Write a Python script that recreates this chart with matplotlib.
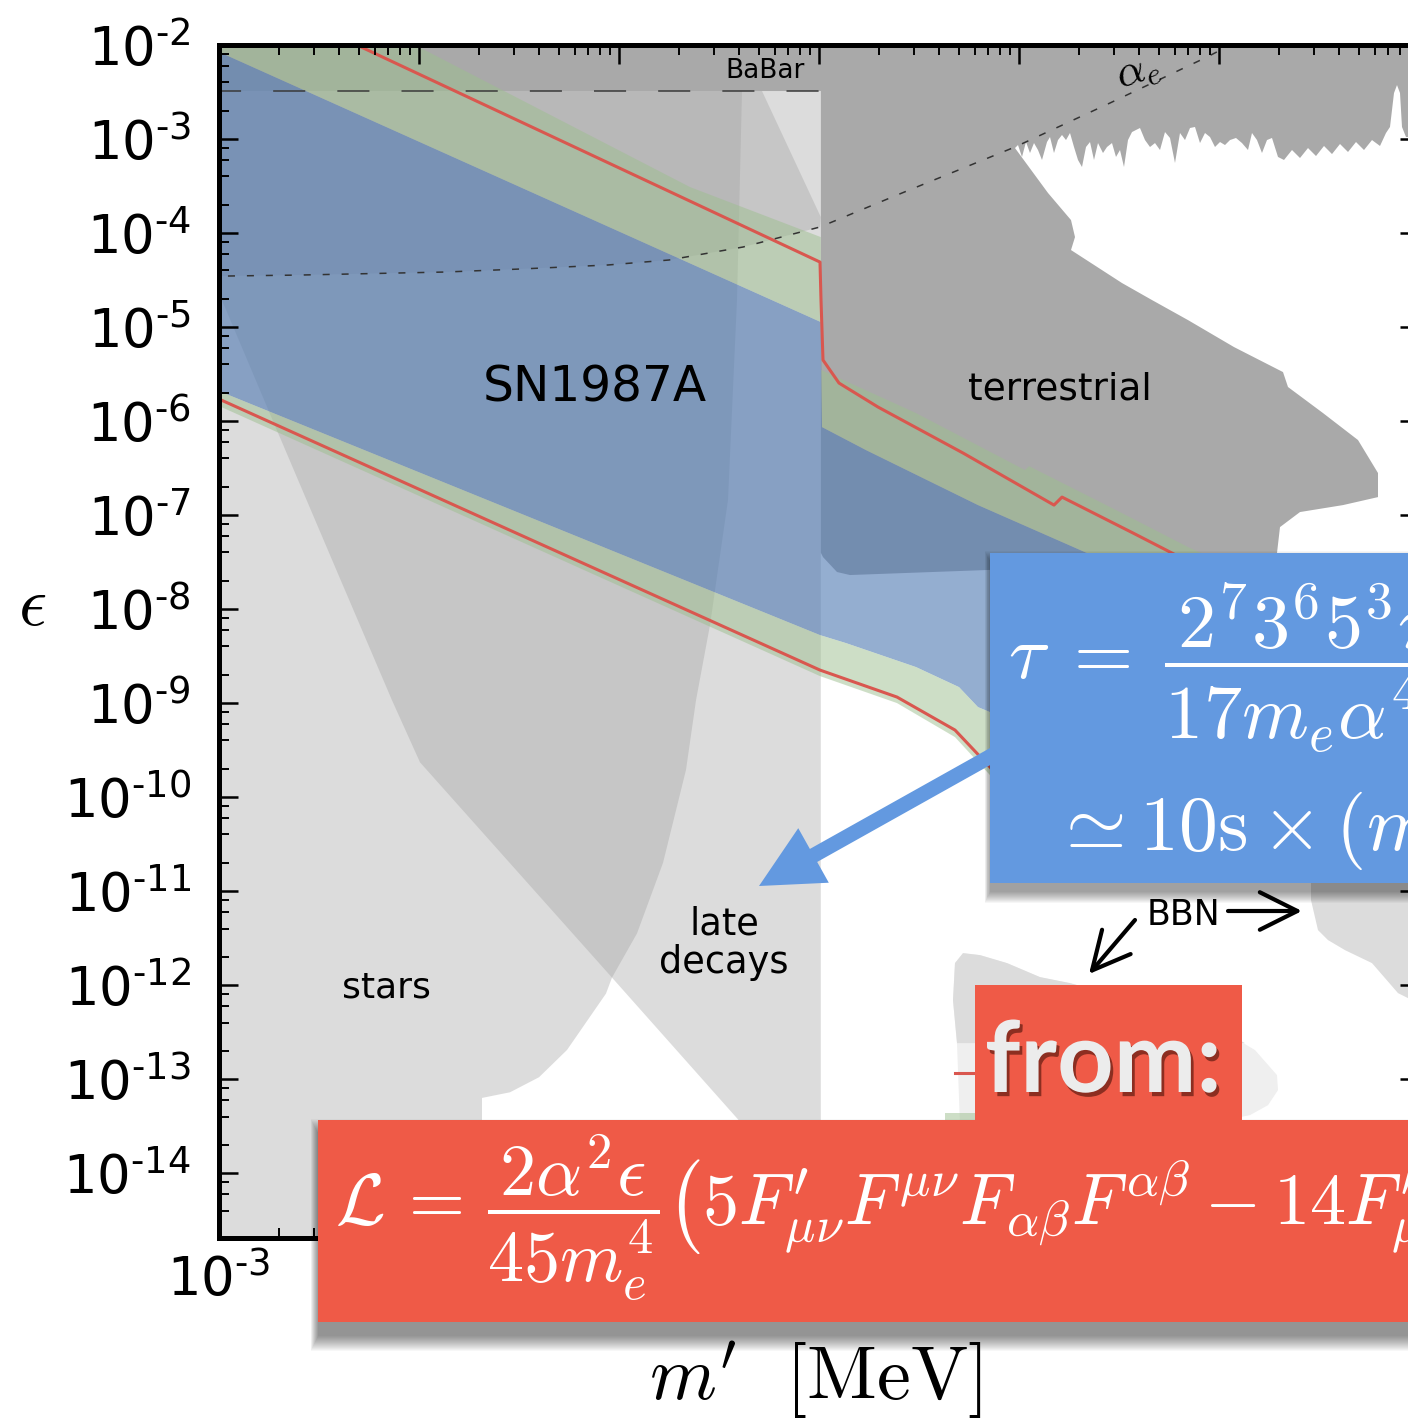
import numpy as np
import matplotlib
matplotlib.use("Agg")
import matplotlib.pyplot as plt
import matplotlib.ticker as ticker
import matplotlib.patheffects as pe
from matplotlib.patches import Rectangle, FancyArrowPatch, ArrowStyle

plt.rcParams["mathtext.fontset"] = "cm"

# outlines are given as log10(m'/MeV) and log10(epsilon)
log_2me = 0.009
babar_logeps = -2.49

x_decades = [-3, -2, -1, 0, 1, 2, 3]
y_decades = [-14, -13, -12, -11, -10, -9, -8, -7, -6, -5, -4, -3, -2]

stars_logm = [-3.05, -0.385, -0.41, -0.455, -0.545, -0.615, -0.665, -0.78, -0.91,
              -1.035, -1.065, -1.26, -1.40, -1.545, -1.685, -1.685, -3.05]
stars_logeps = [-2.49, -2.49, -4.71, -6.84, -8.17, -8.97, -9.71, -10.70, -11.45,
                -11.92, -12.09, -12.69, -12.98, -13.14, -13.20, -15.0, -15.0]

late_logm = [-3.05, 0.009, 0.009, -0.40, -1.035, -1.995, -2.135, -2.42, -2.71, -3.0, -3.05]
late_logeps = [-2.49, -2.49, -14.42, -13.44, -11.92, -9.63, -8.97, -7.55, -6.10, -4.64, -4.39]

alpha_e_logm = [-3.05, -2.595, -1.87, -1.495, -1.055, -0.75, -0.38, 0.005, 0.39, 0.98, 1.455, 1.94, 2.105]
alpha_e_logeps = [-4.46, -4.447, -4.415, -4.383, -4.340, -4.287, -4.149, -3.936, -3.596, -3.085, -2.617, -2.128, -1.947]

terr_lower_logm = [0.009, 0.02, 0.09, 0.155, 0.835, 1.655, 2.29]
terr_lower_logeps = [-7.40, -7.447, -7.606, -7.638, -7.585, -7.532, -7.404]
terr_right_logm = [2.305, 2.405, 2.62, 2.795, 2.795, 2.695, 2.52, 2.345, 2.32, 2.075,
                   1.845, 1.665, 1.515, 1.26, 1.28, 1.26, 1.145]
terr_right_logeps = [-7.128, -6.968, -6.894, -6.809, -6.553, -6.202, -5.915, -5.638, -5.479, -5.213,
                     -4.926, -4.713, -4.532, -4.181, -4.043, -3.862, -3.574]
spike_logm = [0.98, 0.995, 1.015, 1.035, 1.055, 1.075, 1.095, 1.115, 1.14, 1.155, 1.175, 1.195, 1.215,
              1.235, 1.255, 1.275, 1.295, 1.315, 1.335, 1.355, 1.375, 1.395, 1.42, 1.44, 1.465, 1.485,
              1.505, 1.525, 1.545, 1.565, 1.585, 1.605, 1.63, 1.655, 1.68, 1.705, 1.73, 1.755, 1.78,
              1.805, 1.83, 1.855, 1.88, 1.905, 1.93, 1.955, 1.98, 2.005, 2.03, 2.055, 2.085, 2.115,
              2.145, 2.165, 2.19, 2.215, 2.24, 2.265, 2.295, 2.325, 2.365, 2.405, 2.445, 2.485, 2.525,
              2.565, 2.605, 2.645, 2.685, 2.725, 2.765, 2.805, 2.835, 2.855, 2.875, 2.89, 2.905, 2.915,
              2.935, 3.05]
spike_logeps = [-3.096, -3.064, -3.191, -3.032, -3.149, -3.043, -3.117, -3.223, -3.032, -2.979, -3.149,
                -3.011, -2.957, -3.011, -2.936, -3.085, -3.223, -3.298, -3.085, -3.032, -3.223, -3.043,
                -3.149, -3.085, -3.043, -3.191, -3.117, -3.298, -3.011, -2.926, -2.904, -2.883, -3.011,
                -3.085, -3.043, -3.117, -2.926, -2.989, -3.255, -2.936, -3.011, -2.883, -2.872, -3.043,
                -2.936, -2.979, -3.085, -3.032, -3.064, -3.011, -2.989, -3.043, -3.117, -2.936, -3.011,
                -3.149, -3.011, -2.989, -3.191, -3.223, -3.117, -3.202, -3.096, -3.181, -3.074, -3.160,
                -3.053, -3.138, -3.032, -3.117, -3.011, -3.074, -2.936, -2.872, -2.511, -2.426, -2.511,
                -2.872, -2.979, -2.979]

sn_logm = [-3.05, 0.009, 0.015, 0.235, 0.795, 1.34, 1.405, 1.5, 0.905, 0.855, 0.795, 0.70, 0.485,
           0.135, 0.005, -3.05]
sn_logeps = [-2.026, -4.947, -6.064, -6.309, -6.894, -7.404, -7.5, -8.2, -9.138, -9.096, -9.043,
             -8.83, -8.617, -8.362, -8.277, -5.638]

green_up_logm = [-3.05, -2.02, -0.645, 0.009, 0.012, 0.485, 1.03, 1.05, 1.515, 1.845, 2.155, 1.655,
                 1.34, 0.795, 0.235, 0.015, 0.009, -3.05]
green_up_logeps = [-0.87, -2.0, -3.511, -4.043, -5.457, -5.915, -6.521, -6.479, -6.979, -7.34, -7.638,
                   -7.745, -7.404, -6.894, -6.309, -6.064, -4.947, -2.026]

green_lo_logm = [-3.05, 0.005, 0.135, 0.485, 0.70, 0.795, 0.855, 0.905, 0.905, 0.855, 0.68, 0.39, 0.005, -3.05]
green_lo_logeps = [-5.638, -8.277, -8.362, -8.617, -8.83, -9.043, -9.096, -9.138, -10.032, -9.766,
                   -9.362, -9.0, -8.713, -5.792]

red_up_logm = [-3.05, 0.005, 0.01, 0.02, 0.10, 0.295, 0.72, 1.175, 1.215, 1.57, 1.765, 2.155]
red_up_logeps = [-1.263, -4.309, -4.713, -5.351, -5.596, -5.851, -6.340, -6.894, -6.809, -7.191, -7.404, -7.851]

red_lo_logm = [-3.05, 0.005, 0.39, 0.68, 0.855, 0.955]
red_lo_logeps = [-5.718, -8.649, -8.936, -9.287, -9.681, -9.926]

bbn_logm = [0.69, 0.67, 0.68, 0.72, 0.805, 0.94, 1.105, 1.255, 1.655, 2.055, 2.18, 2.29, 2.295,
            2.245, 2.155, 1.905, 0.705]
bbn_logeps = [-12.617, -12.16, -11.766, -11.66, -11.681, -11.766, -11.915, -11.979, -12.213, -12.532,
              -12.691, -12.957, -13.117, -13.277, -13.383, -13.489, -13.489]
bbn_core_logm = [0.69, 0.67, 0.68, 0.72, 0.805, 0.94, 1.105, 1.255, 1.655, 2.055, 2.13]
bbn_core_logeps = [-12.617, -12.16, -11.766, -11.66, -11.681, -11.766, -11.915, -11.979, -12.213,
                   -12.532, -12.617]
bbn2_logm = [2.46, 2.46, 2.495, 2.545, 2.63, 2.765, 2.895, 3.05, 3.05]
bbn2_logeps = [-10.777, -11.096, -11.415, -11.521, -11.628, -11.766, -12.085, -12.25, -10.777]
bbn_red_logm = [0.68, 1.405]
bbn_red_logeps = [-12.936, -12.936]
bbn_green_logm = [0.63, 1.40, 1.40, 0.63]
bbn_green_logeps = [-13.36, -13.36, -13.50, -13.50]

W, H = 1408, 1420
LIGHT = "#a1a1a1"
DARK = "#a9a9a9"
BLUE = "#537cb4"
GREEN = "#9dbf8f"
RED = "#d9574f"


def pts(logm, logeps):
    return 10 ** np.asarray(logm), 10 ** np.asarray(logeps)


def fxy(px, py):
    return px / W, 1 - py / H


def frect(x0, y0, x1, y1, **kw):
    return Rectangle((x0 / W, 1 - y1 / H), (x1 - x0) / W, (y1 - y0) / H,
                     transform=fig.transFigure, **kw)


fig = plt.figure(figsize=(W / 100, H / 100), dpi=100)
ax = fig.add_axes([219 / W, (H - 1238) / H, 1200 / W, 1193 / H])
ax.set_xscale("log")
ax.set_yscale("log")

# light constraint regions
ax.fill(*pts(stars_logm, stars_logeps), color=LIGHT, alpha=0.37, lw=0, zorder=1)
ax.fill(*pts(late_logm, late_logeps), color=LIGHT, alpha=0.37, lw=0, zorder=1)
ae_m = [-3.05, -0.285, log_2me] + alpha_e_logm[7::-1]
ae_e = [babar_logeps, babar_logeps, -3.83] + alpha_e_logeps[7::-1]
ax.fill(*pts(ae_m, ae_e), color=LIGHT, alpha=0.37, lw=0, zorder=1)
ax.fill(*pts(bbn_logm, bbn_logeps), color="#efefef", lw=0, zorder=1)
ax.fill(*pts(bbn_core_logm, bbn_core_logeps), color="#dcdcdc", lw=0, zorder=1)
ax.fill(*pts(bbn2_logm, bbn2_logeps), color="#dcdcdc", lw=0, zorder=1)

# BaBar + terrestrial
terr_m = [-3.05, -3.05, log_2me] + terr_lower_logm + terr_right_logm + spike_logm + [3.05]
terr_e = [-1.9, babar_logeps, babar_logeps] + terr_lower_logeps + terr_right_logeps + spike_logeps + [-1.9]
ax.fill(*pts(terr_m, terr_e), color=DARK, lw=0, zorder=1.2)

# SN1987A
ax.fill(*pts(sn_logm, sn_logeps), color=BLUE, alpha=0.62, lw=0, zorder=1.5)
ax.fill(*pts(green_up_logm, green_up_logeps), color=GREEN, alpha=0.5, lw=0, zorder=1.5)
ax.fill(*pts(green_lo_logm, green_lo_logeps), color=GREEN, alpha=0.5, lw=0, zorder=1.5)
ax.fill(*pts(bbn_green_logm, bbn_green_logeps), color=GREEN, alpha=0.5, lw=0, zorder=1.5)
ax.plot(*pts(red_up_logm, red_up_logeps), color=RED, lw=2.2, zorder=2)
ax.plot(*pts(red_lo_logm, red_lo_logeps), color=RED, lw=2.2, zorder=2)
ax.plot(*pts(bbn_red_logm, bbn_red_logeps), color=RED, lw=2.2, zorder=2)

ax.plot(*pts([-3.05, log_2me], [babar_logeps, babar_logeps]), color="#3a3a3a", lw=1.1,
        ls=(0, (21, 21)), zorder=2.1)
ax.plot(*pts(alpha_e_logm, alpha_e_logeps), color="#333333", lw=1.1, ls=(0, (4.6, 7.8)), zorder=2.1)

ax.set_xlim(1e-3, 1e3)
ax.set_ylim(10 ** -14.69, 1e-2)


def sci_label(v, pos):
    n = int(round(np.log10(v)))
    exp = ("\u2010" + str(-n)) if n < 0 else str(n)
    return r"$\mathregular{10^{%s}}$" % exp


def x_label(v, pos):
    # only the first decade label shows; the rest sit under the Lagrangian box
    return sci_label(v, pos) if v < 2e-3 else ""


ax.xaxis.set_major_locator(ticker.FixedLocator(10.0 ** np.array(x_decades)))
ax.xaxis.set_minor_locator(ticker.LogLocator(base=10, subs=np.arange(2, 10), numticks=100))
ax.yaxis.set_major_locator(ticker.FixedLocator(10.0 ** np.array(y_decades)))
ax.yaxis.set_minor_locator(ticker.LogLocator(base=10, subs=(2, 4, 6, 8), numticks=100))
ax.xaxis.set_major_formatter(ticker.FuncFormatter(x_label))
ax.yaxis.set_major_formatter(ticker.FuncFormatter(sci_label))
ax.xaxis.set_minor_formatter(ticker.NullFormatter())
ax.yaxis.set_minor_formatter(ticker.NullFormatter())
ax.tick_params(which="both", direction="in", top=True, right=True)
ax.tick_params(which="major", length=14, width=1.8, labelsize=38)
ax.tick_params(which="minor", length=7, width=1.4)
ax.tick_params(axis="y", which="major", pad=20)
ax.tick_params(axis="x", which="major", pad=11)
ax.set_axisbelow(False)
for s in ax.spines.values():
    s.set_linewidth(3.6)

ax.set_xlabel(r"$m^{\prime}\ \ [\mathrm{MeV}]$", fontsize=55)
ax.xaxis.set_label_coords(0.497, (1238 - 1380) / 1193)
ax.xaxis.label.set_va("center")
ax.set_ylabel(r"$\epsilon$", fontsize=50, rotation=0)
ax.yaxis.set_label_coords((32 - 219) / 1200, (1238 - 605) / 1193)
ax.yaxis.label.set_va("center")
ax.yaxis.label.set_ha("center")

# region labels
fig.text(*fxy(595, 387), "SN1987A", fontsize=35, ha="center", va="center")
fig.text(*fxy(1060, 390), "terrestrial", fontsize=27, ha="center", va="center")
fig.text(*fxy(386, 988), "stars", fontsize=26, ha="center", va="center")
fig.text(*fxy(724, 943), "late\ndecays", fontsize=26.5, ha="center", va="center", linespacing=1.05)
fig.text(*fxy(765, 71), "BaBar", fontsize=19, ha="center", va="center")
fig.text(*fxy(1137, 70), r"$\alpha_e$", fontsize=32, ha="center", va="center", rotation=18)
fig.text(*fxy(1184, 915), "BBN", fontsize=25, ha="center", va="center")

bbn_arrow = ArrowStyle("->", head_length=0.9, head_width=0.45)
fig.add_artist(FancyArrowPatch(fxy(1228, 911), fxy(1302, 911), transform=fig.transFigure,
                               arrowstyle=bbn_arrow, mutation_scale=30, lw=3.0, color="k",
                               shrinkA=0, shrinkB=0, zorder=3))
fig.add_artist(FancyArrowPatch(fxy(1135, 920), fxy(1089, 974), transform=fig.transFigure,
                               arrowstyle=bbn_arrow, mutation_scale=30, lw=3.0, color="k",
                               shrinkA=0, shrinkB=0, zorder=3))


def shadow(x0, y0, x1, y1, dy, blur, alpha, z):
    for e in range(blur):
        fig.add_artist(frect(x0 - 0.5 * e, y0 + dy - e, x1 + e, y1 + dy + e,
                             fc="k", ec="none", alpha=alpha, zorder=z))


# blue lifetime box
BOX_BLUE = "#6399e0"
fig.add_artist(FancyArrowPatch(fxy(1000, 751), fxy(759, 886), transform=fig.transFigure,
                               arrowstyle=ArrowStyle("simple", head_length=1.8, head_width=1.8,
                                                     tail_width=0.43),
                               mutation_scale=25, fc=BOX_BLUE, ec="none", shrinkA=0, shrinkB=0,
                               zorder=4.5))
shadow(990, 553, 1440, 883, 9, 12, 0.035, 4)
fig.add_artist(frect(990, 553, 1440, 883, fc=BOX_BLUE, ec="none", zorder=5))
fig.text(*fxy(1008, 668),
         r"$\tau\;=\;\dfrac{2^7 3^6 5^3 \pi^3}{17 m_e \alpha^4 \epsilon^2}\left(\dfrac{m_e}{m^{\prime}}\right)^9$",
         fontsize=55, color="white", ha="left", va="center", zorder=6)
fig.text(*fxy(1052, 828), r"$\simeq 10\mathrm{s}\times(m^{\prime}/\mathrm{MeV})^{-9}\,\epsilon^{-2}$",
         fontsize=56, color="white", ha="left", va="center", zorder=6)

# red Lagrangian box
BOX_RED = "#ef5a47"
shadow(318, 1120, 1440, 1322, 14, 16, 0.03, 4)
fig.add_artist(frect(318, 1120, 1440, 1322, fc=BOX_RED, ec="none", zorder=5))
fig.add_artist(frect(975, 985, 1242, 1121, fc=BOX_RED, ec="none", zorder=5))
fig.text(*fxy(985, 1092), "from:", fontsize=71, family="Lato", weight="bold", color="#ececec",
         ha="left", va="baseline", zorder=6,
         path_effects=[pe.withSimplePatchShadow(offset=(2, -3), shadow_rgbFace="#4a1208", alpha=0.6)])
fig.text(*fxy(335, 1218),
         r"$\mathcal{L}\, =\, \dfrac{2\alpha^2\epsilon}{45 m_e^4}\left(5F^{\prime}_{\mu\nu}F^{\mu\nu}"
         r"F_{\alpha\beta}F^{\alpha\beta} - 14F^{\prime}_{\mu\nu}F^{\nu\alpha}F_{\alpha\beta}F^{\beta\mu}\right)$",
         fontsize=52, color="white", ha="left", va="center", zorder=6)

fig.savefig("out.png", dpi=100)
